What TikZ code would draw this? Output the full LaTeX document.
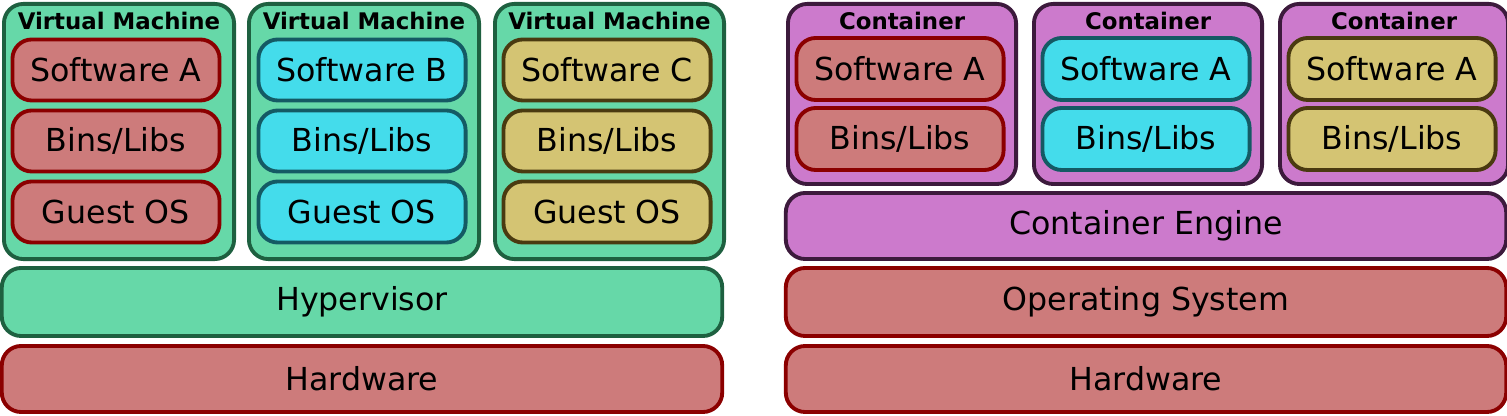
\documentclass[tikz,border=0pt]{standalone}
\usepackage{fontspec}
\setmainfont{DejaVu Sans}
\definecolor{vmgreen}{HTML}{66D8A8}\definecolor{vmgreenD}{HTML}{1E6040}
\definecolor{swred}{HTML}{CD7B7B}\definecolor{swredD}{HTML}{8B0000}
\definecolor{swcyan}{HTML}{44DCEB}\definecolor{swcyanD}{HTML}{145A64}
\definecolor{swyel}{HTML}{D4C473}\definecolor{swyelD}{HTML}{4A3A10}
\definecolor{ctpur}{HTML}{CC7ACC}\definecolor{ctpurD}{HTML}{3C1A3C}
\begin{document}
\begin{tikzpicture}[x=0.01cm, y=-0.01cm, font=\fontsize{9}{10}\selectfont]
    \tikzset{
      layer/.style 2 args={rectangle, draw=#2, fill=#1, line width=1.1pt, rounded corners=5.5pt, inner sep=0pt},
      frame/.style 2 args={layer={#1}{#2}, anchor=north west},
      title/.style={font=\fontsize{6.5}{7}\selectfont\bfseries, anchor=north}
    }
    \useasboundingbox (0,0) rectangle (1507,416);
    % virtual machines
    \node[frame={vmgreen}{vmgreenD}, minimum width=2.30cm, minimum height=2.55cm] (vma) at (2,2) {};
    \node[frame={vmgreen}{vmgreenD}, minimum width=2.30cm, minimum height=2.55cm] (vmb) at (247,2) {};
    \node[frame={vmgreen}{vmgreenD}, minimum width=2.29cm, minimum height=2.55cm] (vmc) at (493,2) {};
    \node[title] at ([yshift=0.02cm]vma.north) {Virtual Machine};
    \node[title] at ([yshift=0.02cm]vmb.north) {Virtual Machine};
    \node[title] at ([yshift=0.02cm]vmc.north) {Virtual Machine};
    \node[layer={swred}{swredD}, minimum width=2.07cm, minimum height=0.61cm] (swa) at (116,70) {Software A};
    \node[layer={swred}{swredD}, minimum width=2.07cm, minimum height=0.61cm] (bla) at (116,141) {Bins/Libs};
    \node[layer={swred}{swredD}, minimum width=2.07cm, minimum height=0.61cm] (osa) at (116,212) {Guest OS};
    \node[layer={swcyan}{swcyanD}, minimum width=2.07cm, minimum height=0.61cm] (swb) at (362,70) {Software B};
    \node[layer={swcyan}{swcyanD}, minimum width=2.07cm, minimum height=0.61cm] (blb) at (362,141) {Bins/Libs};
    \node[layer={swcyan}{swcyanD}, minimum width=2.07cm, minimum height=0.61cm] (osb) at (362,212) {Guest OS};
    \node[layer={swyel}{swyelD}, minimum width=2.07cm, minimum height=0.61cm] (swc) at (607,70) {Software C};
    \node[layer={swyel}{swyelD}, minimum width=2.07cm, minimum height=0.61cm] (blc) at (607,141) {Bins/Libs};
    \node[layer={swyel}{swyelD}, minimum width=2.07cm, minimum height=0.61cm] (osc) at (607,212) {Guest OS};
    \node[layer={vmgreen}{vmgreenD}, minimum width=7.20cm, minimum height=0.68cm] (hyp) at (362,302) {Hypervisor};
    \node[layer={swred}{swredD}, minimum width=7.20cm, minimum height=0.66cm] (hwl) at (362,379) {Hardware};
    % containers
    \node[frame={ctpur}{ctpurD}, minimum width=2.28cm, minimum height=1.80cm] (cta) at (786,2) {};
    \node[frame={ctpur}{ctpurD}, minimum width=2.28cm, minimum height=1.80cm] (ctb) at (1032,2) {};
    \node[frame={ctpur}{ctpurD}, minimum width=2.28cm, minimum height=1.80cm] (ctc) at (1278,2) {};
    \node[title] at ([yshift=0.02cm]cta.north) {Container};
    \node[title] at ([yshift=0.02cm]ctb.north) {Container};
    \node[title] at ([yshift=0.02cm]ctc.north) {Container};
    \node[layer={swred}{swredD}, minimum width=2.07cm, minimum height=0.62cm] (csa) at (900,69) {Software A};
    \node[layer={swred}{swredD}, minimum width=2.07cm, minimum height=0.62cm] (cba) at (900,139) {Bins/Libs};
    \node[layer={swcyan}{swcyanD}, minimum width=2.07cm, minimum height=0.62cm] (csb) at (1146,69) {Software A};
    \node[layer={swcyan}{swcyanD}, minimum width=2.07cm, minimum height=0.62cm] (cbb) at (1146,139) {Bins/Libs};
    \node[layer={swyel}{swyelD}, minimum width=2.07cm, minimum height=0.62cm] (csc) at (1392,69) {Software A};
    \node[layer={swyel}{swyelD}, minimum width=2.07cm, minimum height=0.62cm] (cbc) at (1392,139) {Bins/Libs};
    \node[layer={ctpur}{ctpurD}, minimum width=7.20cm, minimum height=0.66cm] (eng) at (1146,226) {Container Engine};
    \node[layer={swred}{swredD}, minimum width=7.20cm, minimum height=0.68cm] (os) at (1146,302) {Operating System};
    \node[layer={swred}{swredD}, minimum width=7.20cm, minimum height=0.66cm] (hwr) at (1146,379) {Hardware};
\end{tikzpicture}
\end{document}
